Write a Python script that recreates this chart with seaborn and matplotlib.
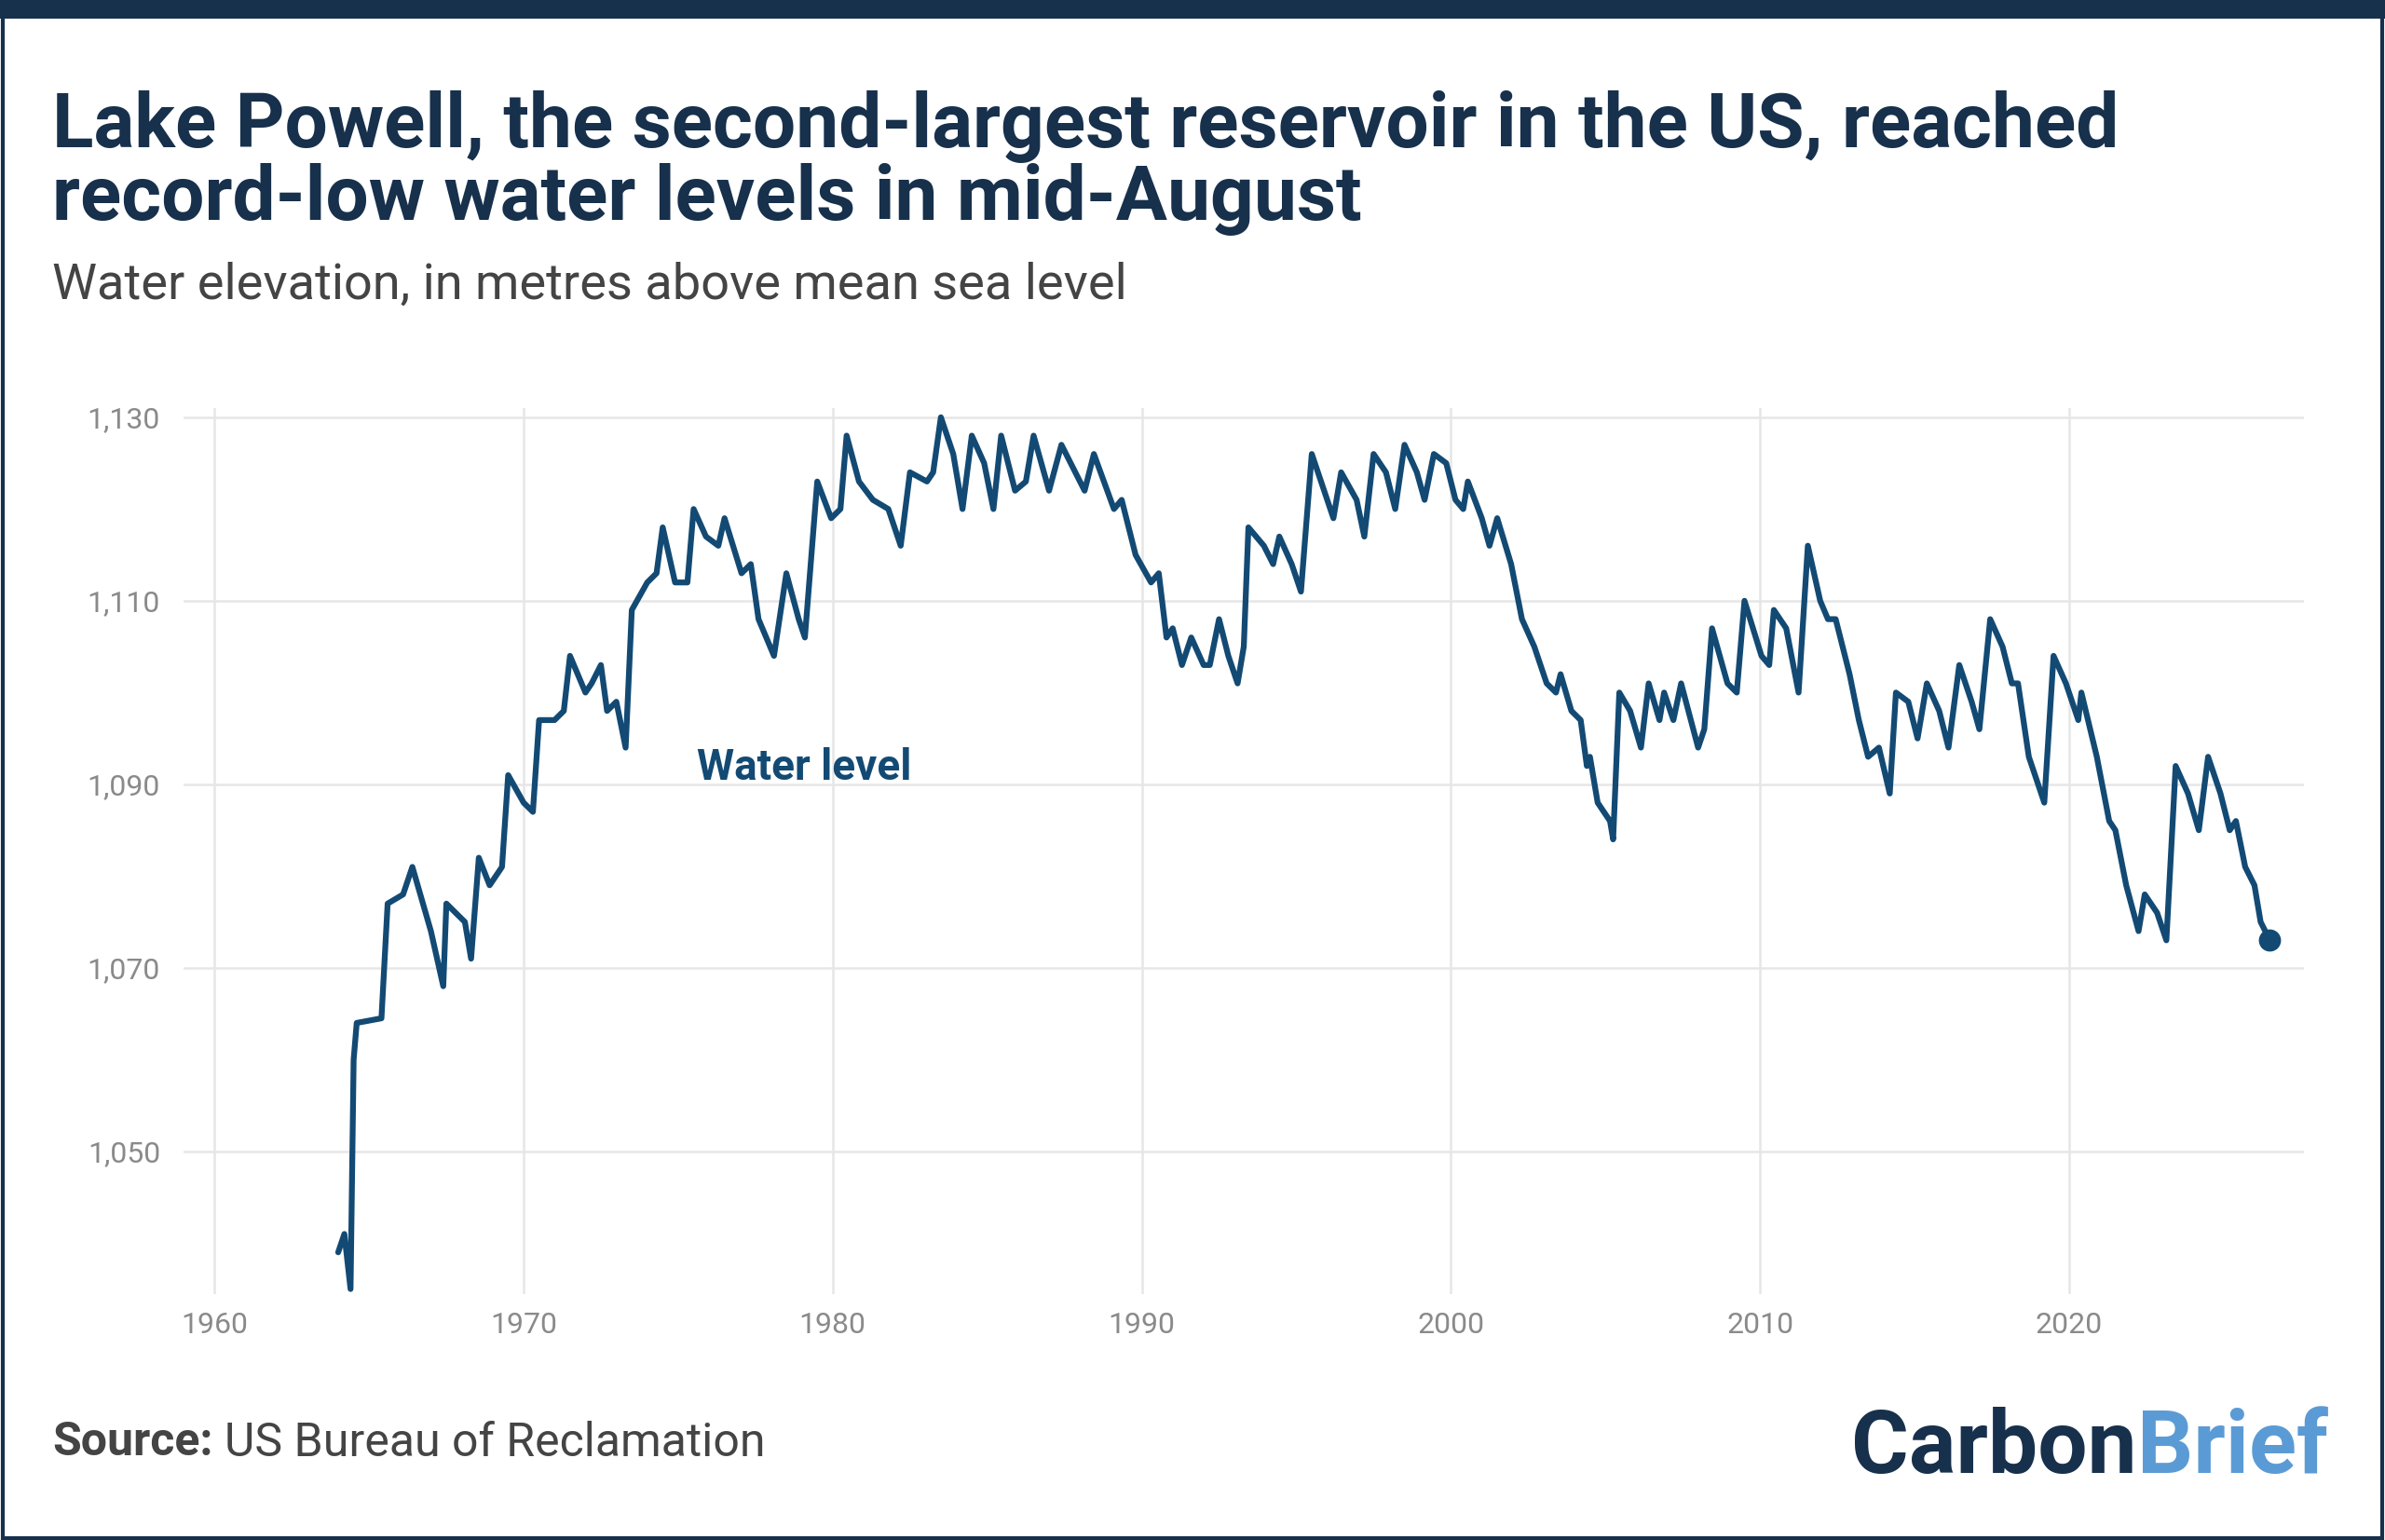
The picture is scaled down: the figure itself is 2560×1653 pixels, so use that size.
import matplotlib
matplotlib.use("Agg")
import matplotlib.pyplot as plt
import seaborn as sns
import pandas as pd
from matplotlib.patches import Rectangle

# data
years = [1964.0, 1964.2, 1964.4, 1964.5, 1964.6, 1965.4, 1965.6, 1966.1, 1966.4, 1967.0, 1967.4, 1967.5,
         1968.1, 1968.3, 1968.55, 1968.9, 1969.3, 1969.5, 1970.0, 1970.3, 1970.5, 1971.0, 1971.3, 1971.5,
         1972.0, 1972.2, 1972.5, 1972.7, 1973.0, 1973.3, 1973.5, 1974.0, 1974.3, 1974.5, 1974.9, 1975.3,
         1975.5, 1975.9, 1976.3, 1976.5, 1977.05, 1977.35, 1977.6, 1978.1, 1978.5, 1978.9, 1979.1, 1979.5,
         1979.95, 1980.25, 1980.45, 1980.85, 1981.3, 1981.8, 1982.2, 1982.5, 1983.05, 1983.25, 1983.5,
         1983.9, 1984.2, 1984.5, 1984.9, 1985.2, 1985.45, 1985.9, 1986.25, 1986.5, 1987.0, 1987.4, 1987.85,
         1988.15, 1988.45, 1989.1, 1989.35, 1989.8, 1990.3, 1990.55, 1990.8, 1991.0, 1991.3, 1991.6, 1992.0,
         1992.2, 1992.5, 1992.8, 1993.1, 1993.3, 1993.45, 1993.95, 1994.25, 1994.45, 1994.85, 1995.15,
         1995.5, 1995.9, 1996.2, 1996.45, 1996.95, 1997.2, 1997.5, 1997.9, 1998.2, 1998.5, 1998.9, 1999.15,
         1999.45, 1999.85, 2000.15, 2000.4, 2000.55, 2001.0, 2001.25, 2001.5, 2001.95, 2002.3, 2002.7,
         2003.1, 2003.4, 2003.55, 2003.9, 2004.2, 2004.4, 2004.5, 2004.75, 2005.15, 2005.25, 2005.45,
         2005.8, 2006.15, 2006.4, 2006.75, 2006.9, 2007.2, 2007.45, 2008.0, 2008.2, 2008.45, 2008.95,
         2009.25, 2009.5, 2010.05, 2010.3, 2010.45, 2010.85, 2011.25, 2011.55, 2011.95, 2012.2, 2012.45,
         2012.9, 2013.2, 2013.5, 2013.85, 2014.2, 2014.4, 2014.8, 2015.1, 2015.4, 2015.8, 2016.1, 2016.45,
         2016.85, 2017.1, 2017.45, 2017.85, 2018.15, 2018.35, 2018.7, 2019.2, 2019.5, 2019.9, 2020.3,
         2020.4, 2020.9, 2021.3, 2021.5, 2021.85, 2022.25, 2022.45, 2022.85, 2023.15, 2023.45, 2023.85,
         2024.2, 2024.5, 2024.9, 2025.2, 2025.4, 2025.7, 2026.0, 2026.2, 2026.5]
levels = [1039, 1041, 1035, 1060, 1064, 1064.5, 1077, 1078, 1081, 1074, 1068, 1077,
          1075, 1071, 1082, 1079, 1081, 1091, 1088, 1087, 1097, 1097, 1098, 1104,
          1100, 1101, 1103, 1098, 1099, 1094, 1109, 1112, 1113, 1118, 1112, 1112,
          1120, 1117, 1116, 1119, 1113, 1114, 1108, 1104, 1113, 1108, 1106, 1123,
          1119, 1120, 1128, 1123, 1121, 1120, 1116, 1124, 1123, 1124, 1130,
          1126, 1120, 1128, 1125, 1120, 1128, 1122, 1123, 1128, 1122, 1127, 1124,
          1122, 1126, 1120, 1121, 1115, 1112, 1113, 1106, 1107, 1103, 1106, 1103,
          1103, 1108, 1104, 1101, 1105, 1118, 1116, 1114, 1117, 1114, 1111,
          1126, 1122, 1119, 1124, 1121, 1117, 1126, 1124, 1120, 1127, 1124, 1121,
          1126, 1125, 1121, 1120, 1123, 1119, 1116, 1119, 1114, 1108, 1105,
          1101, 1100, 1102, 1098, 1097, 1092, 1093, 1088, 1086, 1084, 1100,
          1098, 1094, 1101, 1097, 1100, 1097, 1101, 1094, 1096, 1107, 1101,
          1100, 1110, 1104, 1103, 1109, 1107, 1100, 1116, 1110, 1108, 1108,
          1102, 1097, 1093, 1094, 1089, 1100, 1099, 1095, 1101, 1098, 1094, 1103,
          1099, 1096, 1108, 1105, 1101, 1101, 1093, 1088, 1104, 1101, 1097,
          1100, 1093, 1086, 1085, 1079, 1074, 1078, 1076, 1073, 1092, 1089,
          1085, 1093, 1089, 1085, 1086, 1081, 1079, 1075, 1073]
yticks = [1050, 1070, 1090, 1110, 1130]
xticks = [1960, 1970, 1980, 1990, 2000, 2010, 2020]

df = pd.DataFrame({"year": years, "level": levels})

navy = "#17304c"
line_col = "#134a74"

sns.set_theme(style="white")
plt.rcParams["font.family"] = ["Roboto", "DejaVu Sans"]

fig = plt.figure(figsize=(25.6, 16.53), dpi=100)
fig.patch.set_facecolor("white")

# card border and top bar
fig.patches.append(Rectangle((0.001, 0.001), 0.998, 0.99, transform=fig.transFigure,
                             fill=False, edgecolor=navy, linewidth=3))
fig.patches.append(Rectangle((0, 0.988), 1, 0.012, transform=fig.transFigure,
                             facecolor=navy, edgecolor="none"))

ax = fig.add_axes([0.077, 0.16, 0.889, 0.575])
sns.lineplot(data=df, x="year", y="level", ax=ax, color=line_col, linewidth=4.5)
ax.scatter([years[-1]], [levels[-1]], color=line_col, s=260, zorder=5)

ax.set_xlim(1959, 2027.6)
ax.set_ylim(1034.5, 1131)
ax.set_xticks(xticks)
ax.set_yticks(yticks)
ax.set_yticklabels([f"{v:,}" for v in yticks])
ax.grid(True, color="#e6e6e6", linewidth=1.8)
ax.set_xlabel("")
ax.set_ylabel("")
for s in ax.spines.values():
    s.set_visible(False)
ax.tick_params(axis="both", length=0, labelsize=23, colors="#8a8a8a", pad=14)
ax.tick_params(axis="y", pad=18)

ax.text(1975.6, 1091.8, "Water level", fontsize=33, fontweight="bold", color=line_col, va="center")

fig.text(0.022, 0.894, "Lake Powell, the second-largest reservoir in the US, reached\nrecord-low water levels in mid-August",
         fontsize=59, fontweight="bold", color=navy, va="center", linespacing=1.0)
fig.text(0.022, 0.815, "Water elevation, in metres above mean sea level",
         fontsize=39, color="#444444", va="center")

fig.text(0.022, 0.063, "Source:", fontsize=36, fontweight="bold", color="#444444", va="center")
fig.text(0.094, 0.063, "US Bureau of Reclamation", fontsize=36, color="#444444", va="center")

# logo: "Brief" right-aligned, "Carbon" placed just left of it
brief = fig.text(0.976, 0.059, "Brief", fontsize=68, fontweight="bold", color="#5b9bd5",
                 va="center", ha="right")
fig.canvas.draw()
bb = brief.get_window_extent().transformed(fig.transFigure.inverted())
fig.text(bb.x0, 0.059, "Carbon", fontsize=68, fontweight="bold", color=navy, va="center", ha="right")

fig.savefig("out.png", dpi=100)
